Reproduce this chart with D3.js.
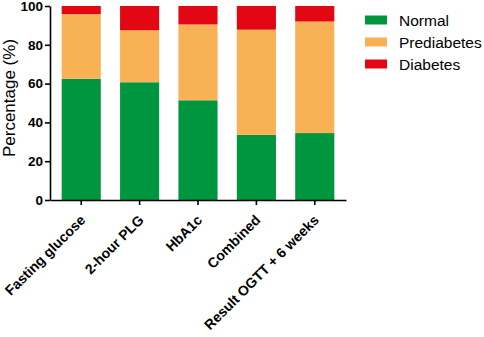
<!DOCTYPE html>
<html>
<head>
<meta charset="utf-8">
<script src="https://cdn.jsdelivr.net/npm/d3@7"></script>
<style>
  html, body { margin: 0; padding: 0; background: #fff; }
  svg { display: block; font-family: "Liberation Sans", Arial, Helvetica, sans-serif; }
</style>
</head>
<body>
<svg id="chart" width="484" height="337"></svg>
<script>
// Share of participants per classification, for each diagnostic method
const categories = ["Fasting glucose", "2-hour PLG", "HbA1c", "Combined", "Result OGTT + 6 weeks"];
const normal      = [62.5, 60.7, 51.4, 33.6, 34.5];
const prediabetes = [33.3, 26.8, 39.1, 54.2, 57.5];
const diabetes    = [4.2, 12.5, 9.5, 12.2, 8.0];
const seriesNames = ["Normal", "Prediabetes", "Diabetes"];
const seriesColors = ["#009640", "#F8B154", "#E30613"];
const yTicks = [0, 20, 40, 60, 80, 100];

const svg = d3.select("#chart");

const rows = categories.map((c, i) => ({
  category: c,
  Normal: normal[i],
  Prediabetes: prediabetes[i],
  Diabetes: diabetes[i]
}));
const stacked = d3.stack().keys(seriesNames)(rows);

const x = d3.scaleBand()
  .domain(categories)
  .range([50, 346])
  .paddingInner(0.33)
  .paddingOuter(0.2);

const y = d3.scaleLinear()
  .domain([0, 100])
  .range([200, 6]);

const color = d3.scaleOrdinal().domain(seriesNames).range(seriesColors);

// stacked bars
svg.append("g")
  .selectAll("g")
  .data(stacked)
  .join("g")
  .attr("fill", d => color(d.key))
  .selectAll("rect")
  .data(d => d)
  .join("rect")
  .attr("x", d => x(d.data.category))
  .attr("width", x.bandwidth())
  .attr("y", d => y(Math.min(d[1], 100)))
  .attr("height", d => y(d[0]) - y(Math.min(d[1], 100)));

// y axis
const yAxis = svg.append("g")
  .attr("transform", "translate(50,0)")
  .call(d3.axisLeft(y).tickValues(yTicks).tickSize(5).tickSizeOuter(0).tickPadding(2));
yAxis.select(".domain").attr("stroke", "#000").attr("stroke-width", 1.6);
yAxis.selectAll(".tick line").attr("stroke", "#000").attr("stroke-width", 1.6);
yAxis.selectAll(".tick text")
  .attr("fill", "#000")
  .style("font-size", "13.5px")
  .style("font-weight", "bold")
  .style("font-family", "'Liberation Sans', Arial, sans-serif");

// x axis with slanted category labels
const xAxis = svg.append("g")
  .attr("transform", "translate(0,200)")
  .call(d3.axisBottom(x).tickSize(5).tickSizeOuter(0));
xAxis.select(".domain").attr("stroke", "#000").attr("stroke-width", 1.6);
xAxis.selectAll(".tick line").attr("stroke", "#000").attr("stroke-width", 1.6);
xAxis.selectAll(".tick text")
  .attr("fill", "#000")
  .attr("text-anchor", "end")
  .attr("dy", 0)
  .attr("y", 0)
  .attr("transform", "translate(5,21) rotate(-45)")
  .style("font-size", "14px")
  .style("font-weight", "bold")
  .style("font-family", "'Liberation Sans', Arial, sans-serif");

// y axis title
svg.append("text")
  .attr("transform", "translate(15,98) rotate(-90)")
  .attr("text-anchor", "middle")
  .style("font-size", "17px")
  .attr("fill", "#000")
  .text("Percentage (%)");

// legend
const legend = svg.append("g")
  .selectAll("g")
  .data(seriesNames)
  .join("g")
  .attr("transform", (d, i) => `translate(365,${20 + i * 22})`);
legend.append("rect")
  .attr("x", 0)
  .attr("y", -4.5)
  .attr("width", 22)
  .attr("height", 9)
  .attr("fill", d => color(d));
legend.append("text")
  .attr("x", 34)
  .attr("y", 0)
  .attr("dy", "0.36em")
  .style("font-size", "15.5px")
  .attr("fill", "#000")
  .text(d => d);
</script>
</body>
</html>
